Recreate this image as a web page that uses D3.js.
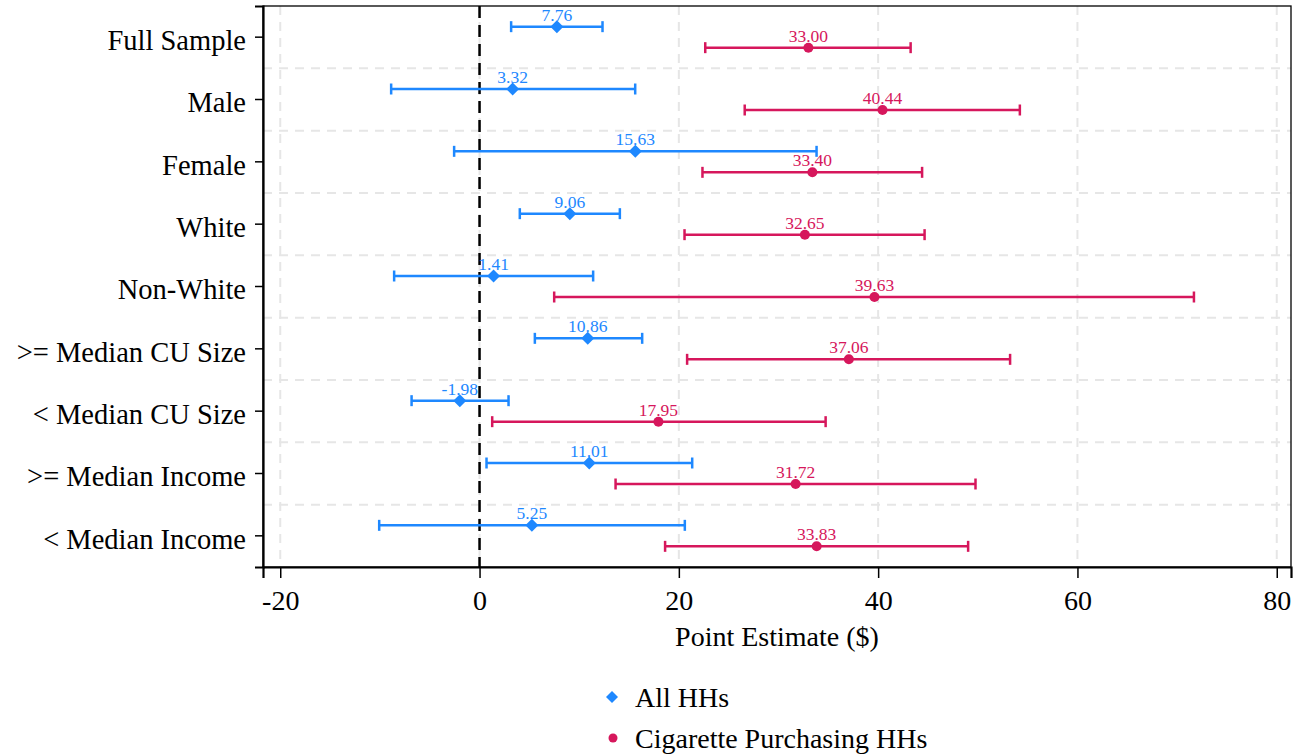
<!DOCTYPE html>
<html><head><meta charset="utf-8">
<script src="https://cdn.jsdelivr.net/npm/d3@7"></script>
<style>body{margin:0;background:#fff}svg{display:block}text{font-family:"Liberation Serif","Times New Roman",serif}</style>
</head><body><svg id="chart" width="1294" height="755"></svg>
<script>
const categories = ["Full Sample","Male","Female","White","Non-White",">= Median CU Size","< Median CU Size",">= Median Income","< Median Income"];
const allEst = [7.76,3.32,15.63,9.06,1.41,10.86,-1.98,11.01,5.25];
const allLo  = [3.17,-8.87,-2.55,4.04,-8.57,5.55,-6.82,0.70,-10.07];
const allHi  = [12.34,15.62,33.82,14.08,11.40,16.32,2.91,21.34,20.60];
const cigEst = [33.00,40.44,33.40,32.65,39.63,37.06,17.95,31.72,33.83];
const cigLo  = [22.65,26.61,22.37,20.57,7.49,20.83,1.27,13.65,18.62];
const cigHi  = [43.26,54.22,44.41,44.66,71.69,53.24,34.73,49.77,49.03];
const xTicks = [-20,0,20,40,60,80];
const seriesNames = ["All HHs","Cigarette Purchasing HHs"];
const colors = ["#1E88FF","#D6175C"];

const svg = d3.select("#chart");
const L=263, R=1291, T=6, B=567;
const x = d3.scaleLinear().domain([-21.73,81.43]).range([L,R]);
const y = d3.scaleBand().domain(categories).range([T,B]);
const off = 10.5;

// gridlines
const grid = svg.append("g").attr("stroke","#e6e6e6").attr("stroke-width",2).attr("stroke-dasharray","9,7");
grid.selectAll("line.v").data(xTicks).join("line")
  .attr("x1",d=>x(d)).attr("x2",d=>x(d)).attr("y1",T).attr("y2",B);
grid.selectAll("line.h").data(categories.slice(1)).join("line")
  .attr("x1",L).attr("x2",R).attr("y1",d=>y(d)).attr("y2",d=>y(d));

// zero line
svg.append("line").attr("x1",x(0)).attr("x2",x(0)).attr("y1",T).attr("y2",B)
  .attr("stroke","#000").attr("stroke-width",2.5).attr("stroke-dasharray","12,7");

// frame
svg.append("rect").attr("x",L).attr("y",T).attr("width",R-L).attr("height",B-T)
  .attr("fill","none").attr("stroke","#000").attr("stroke-width",1.3);

// axes
const xAxis = svg.append("g").attr("transform",`translate(0,${B})`)
  .call(d3.axisBottom(x).tickValues(xTicks).tickSize(11).tickPadding(12).tickFormat(d=>String(d)));
xAxis.select(".domain").attr("stroke-width",2.2);
xAxis.selectAll(".tick line").attr("stroke-width",1.5);
xAxis.selectAll("text").attr("font-size",28).attr("fill","#000").attr("font-family","Liberation Serif");

const yAxis = svg.append("g").attr("transform",`translate(${L},0)`)
  .call(d3.axisLeft(y).tickSize(8).tickPadding(9));
yAxis.select(".domain").attr("stroke-width",2.2);
yAxis.selectAll(".tick line").attr("stroke-width",1.5);
yAxis.selectAll("text").attr("font-size",28.5).attr("fill","#000").attr("font-family","Liberation Serif").attr("dy","0.45em");

svg.append("text").attr("x",(L+R)/2).attr("y",646).attr("text-anchor","middle")
  .attr("font-size",28).text("Point Estimate ($)");

function series(est,lo,hi,dy,color,shape){
  const g = svg.append("g");
  const yc = (c)=>y(c)+y.bandwidth()/2+dy;
  const rows = categories.map((c,i)=>({c,e:est[i],l:lo[i],h:hi[i]}));
  g.selectAll("line.ci").data(rows).join("line")
    .attr("x1",d=>x(d.l)).attr("x2",d=>x(d.h)).attr("y1",d=>yc(d.c)).attr("y2",d=>yc(d.c))
    .attr("stroke",color).attr("stroke-width",2.5);
  ["l","h"].forEach(k=>{
    g.selectAll("line.cap"+k).data(rows).join("line")
      .attr("x1",d=>x(d[k])).attr("x2",d=>x(d[k])).attr("y1",d=>yc(d.c)-5.5).attr("y2",d=>yc(d.c)+5.5)
      .attr("stroke",color).attr("stroke-width",2.5);
  });
  if(shape==="diamond"){
    g.selectAll("path.m").data(rows).join("path")
      .attr("d",d=>{const cx=x(d.e),cy=yc(d.c),s=6.5;return `M${cx},${cy-s}L${cx+s},${cy}L${cx},${cy+s}L${cx-s},${cy}Z`;})
      .attr("fill",color);
  } else {
    g.selectAll("circle.m").data(rows).join("circle")
      .attr("cx",d=>x(d.e)).attr("cy",d=>yc(d.c)).attr("r",5).attr("fill",color);
  }
  g.selectAll("text.lab").data(rows).join("text")
    .attr("x",d=>x(d.e)).attr("y",d=>yc(d.c)-6).attr("text-anchor","middle")
    .attr("font-size",17.5).attr("fill",color).text(d=>d.e.toFixed(2));
}
series(allEst,allLo,allHi,-off,colors[0],"diamond");
series(cigEst,cigLo,cigHi,off,colors[1],"circle");

// legend
const lg = svg.append("g");
lg.append("path").attr("d",()=>{const cx=612,cy=697,s=6;return `M${cx},${cy-s}L${cx+s},${cy}L${cx},${cy+s}L${cx-s},${cy}Z`;}).attr("fill",colors[0]);
lg.append("circle").attr("cx",613).attr("cy",738).attr("r",4.5).attr("fill",colors[1]);
lg.append("text").attr("x",635).attr("y",707).attr("font-size",28).text(seriesNames[0]);
lg.append("text").attr("x",635).attr("y",748).attr("font-size",28).text(seriesNames[1]);
</script></body></html>
